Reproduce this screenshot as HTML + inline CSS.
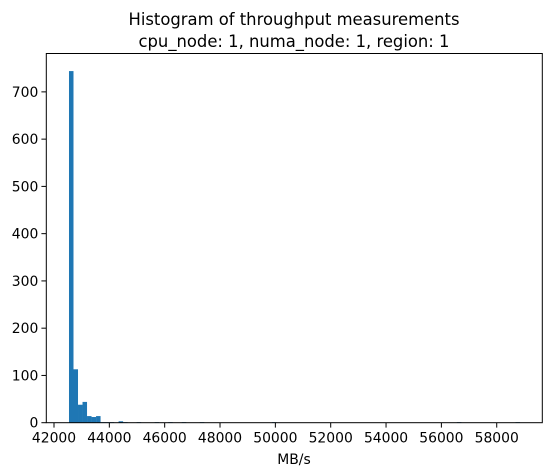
<!DOCTYPE html>
<html><head><meta charset="utf-8"><style>
html,body{margin:0;padding:0;background:#fff;}
svg{display:block;font-family:"DejaVu Sans","Liberation Sans",sans-serif;}
</style></head><body>
<svg id="chart" width="552" height="476" viewBox="0 0 552 476">
<g id="bars"></g>
<g id="axes"></g>
<text x="294" y="25" text-anchor="middle" font-size="16.4" fill="#000">Histogram of throughput measurements</text>
<text x="294" y="47" text-anchor="middle" font-size="16.4" fill="#000">cpu_node: 1, numa_node: 1, region: 1</text>
<text x="294" y="464" text-anchor="middle" font-size="13.9" fill="#000">MB/s</text>
</svg>
<script>
const binStart = 42542;
const binWidth = 163;
const counts = [744,113,38,44,14,12,14,1,1,1,0,3,1,0,0,1,0,0,0,1,0,0,1,0,0,1,0,0,0,1,0,0,0,0,0,0,0,0,0,0,0,0,0,0,0,1,0,0,0,0,0,0,0,0,0,0,0,0,0,0,0,0,0,0,0,0,0,0,0,0,0,0,0,0,0,0,0,0,0,0,0,0,0,0,0,0,1,0,0,0,0,0,0,0,0,0,0,0,0,1];
const xTicks = [42000,44000,46000,48000,50000,52000,54000,56000,58000];
const yTicks = [0,100,200,300,400,500,600,700];

const L=46.3,R=542.3,T=53.5,B=422.7;
const xMin=41722,xMax=59647,yMax=781.2;
const X=v=>L+(v-xMin)/(xMax-xMin)*(R-L);
const Y=v=>B-v/yMax*(B-T);
const NS='http://www.w3.org/2000/svg';
const bars=document.getElementById('bars');
const axes=document.getElementById('axes');
function mk(t,a){const e=document.createElementNS(NS,t);for(const k in a)e.setAttribute(k,a[k]);return e;}
counts.forEach((c,i)=>{
  if(c<=0)return;
  const x0=X(binStart+i*binWidth),x1=X(binStart+(i+1)*binWidth);
  const r=mk('rect',{x:x0,y:Y(c),width:x1-x0,height:B-Y(c),fill:'#1f77b4'});
  
  
  bars.appendChild(r);
});
const frame=mk('rect',{x:L,y:T,width:R-L,height:B-T,fill:'none',stroke:'#000','stroke-width':1});


axes.appendChild(frame);
xTicks.forEach(v=>{
  const x=X(v);
  const t=mk('line',{x1:x,x2:x,y1:B,y2:B+4.9,stroke:'#000','stroke-width':1});
  
  
  axes.appendChild(t);
  const l=mk('text',{x:x,y:B+20,'text-anchor':'middle','font-size':13.9,fill:'#000'});
  l.textContent=v;
  
  
  axes.appendChild(l);
});
yTicks.forEach(v=>{
  const y=Y(v);
  const t=mk('line',{x1:L-4.9,x2:L,y1:y,y2:y,stroke:'#000','stroke-width':1});
  
  
  axes.appendChild(t);
  const l=mk('text',{x:L-8,y:y+5,'text-anchor':'end','font-size':13.9,fill:'#000'});
  l.textContent=v;
  
  
  axes.appendChild(l);
});
</script>
</body></html>
